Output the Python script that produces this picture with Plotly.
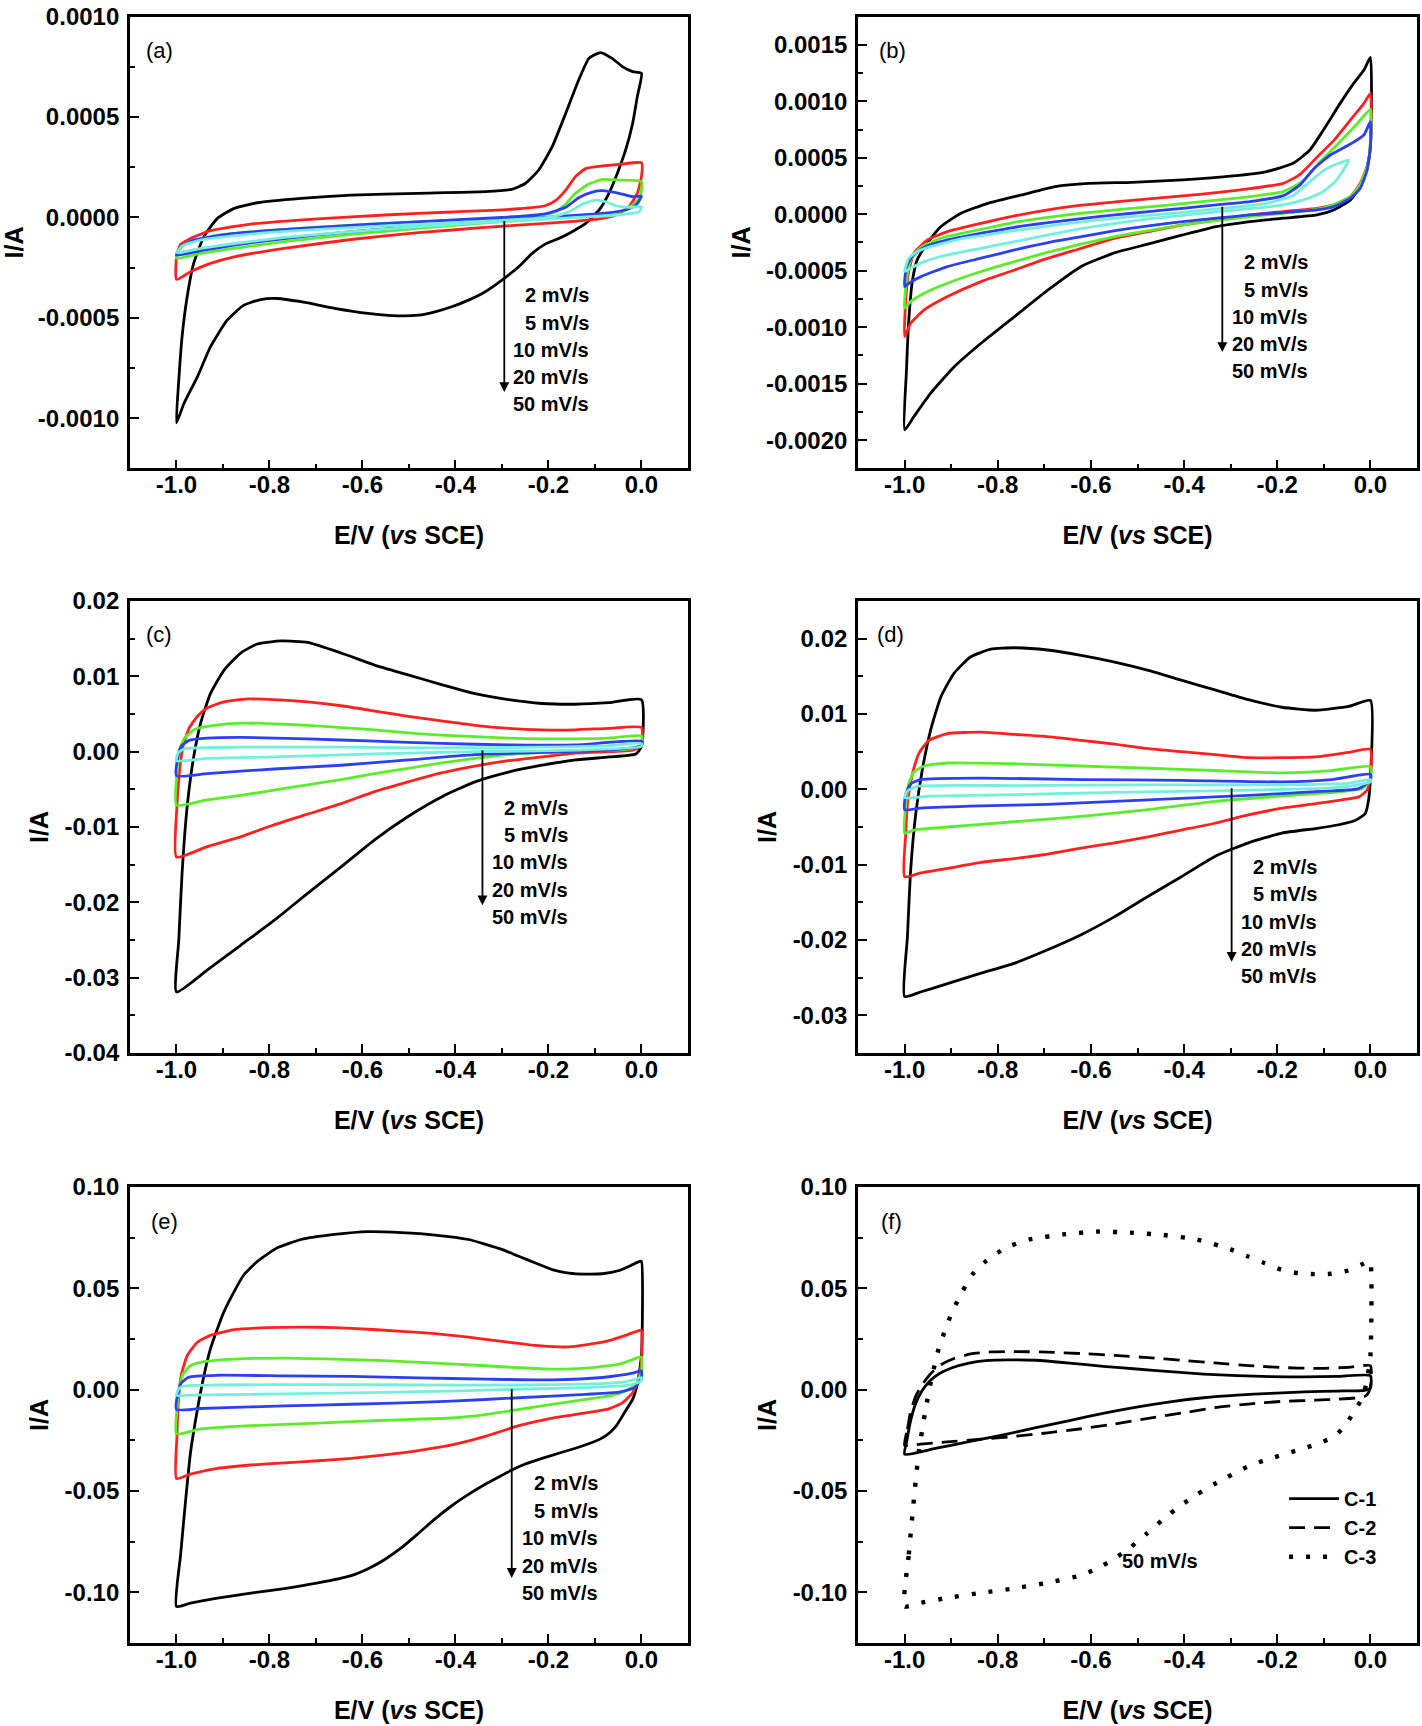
import plotly.graph_objects as go

FONT = "Liberation Sans, Arial, sans-serif"

# ---------------- (a) ----------------
A_K_E = [-1.0, -0.995, -0.988, -0.977, -0.963, -0.941, -0.912, -0.876, -0.826, -0.732, -0.624, -0.48, -0.336,
         -0.279, -0.25, -0.221, -0.192, -0.163, -0.135, -0.113, -0.088, -0.063, -0.041, -0.019, 0.0,
         -0.009, -0.019, -0.034, -0.052, -0.07, -0.091, -0.12, -0.149, -0.178, -0.207, -0.235, -0.264, -0.3,
         -0.336, -0.372, -0.408, -0.444, -0.48, -0.523, -0.588, -0.66, -0.732, -0.783, -0.819, -0.855, -0.891,
         -0.927, -0.955, -0.984, -1.0]
A_K_I = [-0.001023, -0.000811, -0.000595, -0.000395, -0.000229, -0.000096, -0.000005, 0.000045, 0.000073,
         0.000095, 0.000111, 0.00012, 0.000128, 0.00014, 0.000169, 0.000236, 0.000352, 0.000518, 0.000684,
         0.000792, 0.000821, 0.000792, 0.000751, 0.000726, 0.000718,
         0.000601, 0.000468, 0.000336, 0.000219, 0.00012, 0.000037, -0.00003, -0.000071, -0.000105, -0.000133,
         -0.000179, -0.000246, -0.000312, -0.00037, -0.000412, -0.000445, -0.00047, -0.000487, -0.00049,
         -0.000478, -0.000453, -0.00042, -0.000404, -0.000409, -0.000437, -0.000512, -0.000645, -0.000794,
         -0.000927, -0.001023]
A_R_E = [-1.0, -0.999, -0.991, -0.97, -0.927, -0.84, -0.696, -0.552, -0.408, -0.264, -0.207, -0.185, -0.163,
         -0.142, -0.12, -0.084, -0.048, 0.0,
         0.0, -0.009, -0.027, -0.055, -0.098, -0.192, -0.336, -0.48, -0.624, -0.768, -0.876, -0.927, -0.97, -1.0]
A_R_I = [-0.000309, -0.000179, -0.000135, -0.000105, -0.000066, -0.000033, -0.000007, 0.000012, 0.000027,
         0.000043, 0.000058, 0.000083, 0.000136, 0.000203, 0.000243, 0.000256, 0.000264, 0.000272,
         0.000203, 0.00012, 0.000053, 0.000012, -0.00001, -0.000027, -0.00005, -0.000076, -0.00011, -0.000154,
         -0.000196, -0.000229, -0.000271, -0.000309]
A_G_E = [-1.0, -0.995, -0.977, -0.912, -0.768, -0.624, -0.48, -0.336, -0.228, -0.185, -0.163, -0.142, -0.113,
         -0.084, -0.048, 0.0,
         -0.003, -0.019, -0.048, -0.098, -0.192, -0.336, -0.48, -0.624, -0.768, -0.876, -0.948, -1.0]
A_G_I = [-0.000204, -0.000163, -0.000126, -0.000088, -0.00006, -0.000038, -0.000022, -0.000007, 0.00001,
         0.000027, 0.000066, 0.00012, 0.000166, 0.000189, 0.000186, 0.000178,
         0.000103, 0.000061, 0.000028, 0.000012, -0.000005, -0.000027, -0.000055, -0.000085, -0.000121,
         -0.000154, -0.000179, -0.000204]
A_B_E = [-1.0, -0.991, -0.963, -0.876, -0.732, -0.588, -0.444, -0.3, -0.207, -0.163, -0.135, -0.106, -0.084,
         -0.048, -0.019, 0.0,
         -0.012, -0.034, -0.084, -0.192, -0.336, -0.48, -0.624, -0.768, -0.876, -0.948, -1.0]
A_B_I = [-0.000188, -0.000146, -0.000113, -0.00008, -0.000055, -0.000035, -0.000017, 0.0, 0.000018, 0.00005,
         0.000098, 0.000126, 0.000133, 0.00012, 0.000103, 0.000106,
         0.000061, 0.000037, 0.00002, 0.000003, -0.000017, -0.000043, -0.000071, -0.000105, -0.000138,
         -0.000166, -0.000188]
A_C_E = [-1.0, -0.988, -0.948, -0.84, -0.696, -0.552, -0.408, -0.264, -0.192, -0.156, -0.127, -0.099, -0.077,
         -0.055, -0.027, 0.0,
         -0.005, -0.034, -0.084, -0.192, -0.336, -0.48, -0.624, -0.768, -0.876, -0.948, -1.0]
A_C_I = [-0.000176, -0.000143, -0.000113, -0.000083, -0.00006, -0.000042, -0.000027, -0.00001, 0.000003,
         0.000028, 0.000066, 0.000086, 0.000078, 0.000058, 0.00005, 0.000053,
         0.000028, 0.000017, 0.000007, -0.000007, -0.000025, -0.000047, -0.000071, -0.0001, -0.00013,
         -0.000154, -0.000176]

# ---------------- (b) ----------------
B_K_E = [-1.0, -0.996, -0.991, -0.983, -0.973, -0.951, -0.922, -0.879, -0.821, -0.749, -0.677, -0.605, -0.512,
         -0.403, -0.295, -0.223, -0.166, -0.13, -0.101, -0.065, -0.036, -0.014, 0.0,
         0.0, -0.007, -0.022, -0.043, -0.079, -0.115, -0.187, -0.259, -0.331, -0.403, -0.476, -0.548, -0.62,
         -0.692, -0.764, -0.836, -0.893, -0.944, -0.98, -1.0]
B_K_I = [-0.001909, -0.001378, -0.000935, -0.000581, -0.000404, -0.000257, -0.000109, 0.000009, 0.000097,
         0.000171, 0.000245, 0.000274, 0.000283, 0.000304, 0.000339, 0.000378, 0.000451, 0.000569, 0.000746,
         0.000982, 0.001159, 0.001277, 0.001389,
         0.000599, 0.000422, 0.000245, 0.000127, 0.000038, -0.000006, -0.000035, -0.000065, -0.000109,
         -0.000183, -0.000263, -0.00034, -0.00046, -0.00067, -0.000906, -0.001142, -0.001348, -0.001584,
         -0.001791, -0.001909]
B_R_E = [-1.0, -0.998, -0.992, -0.98, -0.951, -0.908, -0.836, -0.764, -0.692, -0.62, -0.548, -0.476, -0.403,
         -0.331, -0.259, -0.187, -0.151, -0.115, -0.079, -0.043, -0.014, 0.0,
         0.0, -0.005, -0.022, -0.043, -0.079, -0.115, -0.187, -0.259, -0.331, -0.403, -0.476, -0.548, -0.62,
         -0.692, -0.764, -0.836, -0.908, -0.958, -0.987, -1.0]
B_R_I = [-0.001083, -0.000788, -0.000522, -0.000345, -0.000227, -0.000153, -0.00008, -0.000015, 0.000038,
         0.00008, 0.000109, 0.000136, 0.000162, 0.000192, 0.000227, 0.000274, 0.000354, 0.000504, 0.000652,
         0.000835, 0.000982, 0.001071,
         0.000628, 0.000451, 0.000274, 0.000156, 0.000083, 0.000053, 0.000024, -0.000006, -0.00005, -0.000094,
         -0.000153, -0.000212, -0.000301, -0.000389, -0.000493, -0.000596, -0.000729, -0.000847, -0.000965,
         -0.001083]
B_G_E = [-1.0, -0.996, -0.987, -0.965, -0.922, -0.836, -0.764, -0.692, -0.62, -0.548, -0.476, -0.403, -0.331,
         -0.259, -0.187, -0.144, -0.108, -0.072, -0.029, 0.0,
         0.0, -0.005, -0.022, -0.043, -0.079, -0.115, -0.187, -0.259, -0.331, -0.403, -0.476, -0.548, -0.62,
         -0.692, -0.764, -0.836, -0.908, -0.958, -0.987, -1.0]
B_G_I = [-0.000832, -0.000581, -0.000404, -0.000292, -0.000212, -0.000133, -0.000071, -0.000027, 0.000009,
         0.000038, 0.000065, 0.000094, 0.000124, 0.000156, 0.000201, 0.000298, 0.000466, 0.000614, 0.000799,
         0.000929,
         0.000658, 0.000451, 0.00026, 0.000156, 0.000083, 0.000044, 0.000009, -0.000021, -0.000056, -0.000094,
         -0.000145, -0.000198, -0.000263, -0.000336, -0.000419, -0.000507, -0.000611, -0.000699, -0.000773,
         -0.000832]
B_B_E = [-1.0, -0.996, -0.983, -0.958, -0.908, -0.836, -0.764, -0.692, -0.62, -0.548, -0.476, -0.403, -0.331,
         -0.259, -0.187, -0.151, -0.122, -0.086, -0.043, -0.014, 0.0,
         0.0, -0.007, -0.022, -0.043, -0.079, -0.115, -0.187, -0.259, -0.331, -0.403, -0.476, -0.548, -0.62,
         -0.692, -0.764, -0.836, -0.908, -0.965, -0.991, -1.0]
B_B_I = [-0.00064, -0.000463, -0.000369, -0.000292, -0.000227, -0.000168, -0.000115, -0.000074, -0.000038,
         -0.000006, 0.000024, 0.000053, 0.000083, 0.000112, 0.000165, 0.00026, 0.000401, 0.000525, 0.000622,
         0.000702, 0.00082,
         0.000599, 0.000392, 0.00023, 0.000142, 0.000068, 0.000038, 0.000015, -0.000006, -0.000035, -0.000065,
         -0.000103, -0.000145, -0.000198, -0.000251, -0.000316, -0.000389, -0.000463, -0.000552, -0.000611,
         -0.00064]
B_C_E = [-1.0, -0.991, -0.973, -0.944, -0.872, -0.8, -0.728, -0.656, -0.584, -0.512, -0.439, -0.367, -0.295,
         -0.223, -0.166, -0.13, -0.101, -0.072, -0.047,
         -0.058, -0.079, -0.108, -0.144, -0.187, -0.259, -0.331, -0.403, -0.476, -0.548, -0.62, -0.692, -0.764,
         -0.836, -0.908, -0.958, -0.987, -1.0]
B_C_I = [-0.000507, -0.000389, -0.00033, -0.000286, -0.000212, -0.000168, -0.000124, -0.000086, -0.00005,
         -0.000021, 0.000003, 0.000032, 0.000062, 0.000097, 0.000165, 0.000289, 0.000386, 0.000445, 0.000481,
         0.000392, 0.000274, 0.000186, 0.000127, 0.000083, 0.00005, 0.000021, -0.000009, -0.000041, -0.00008,
         -0.000127, -0.000183, -0.000242, -0.000301, -0.00036, -0.000419, -0.000478, -0.000507]

# ---------------- (c) ----------------
C_K_E = [-1.0, -0.995, -0.988, -0.977, -0.963, -0.948, -0.927, -0.898, -0.862, -0.826, -0.775, -0.718, -0.646,
         -0.574, -0.502, -0.43, -0.358, -0.286, -0.214, -0.142, -0.07, 0.0,
         0.0, -0.012, -0.07, -0.142, -0.214, -0.286, -0.358, -0.43, -0.502, -0.574, -0.646, -0.718, -0.79,
         -0.862, -0.934, -1.0]
C_K_I = [-0.0319, -0.025, -0.0162, -0.0073, -0.0007, 0.0038, 0.0077, 0.0108, 0.0131, 0.0143, 0.0147, 0.0145,
         0.0131, 0.0115, 0.0102, 0.0089, 0.0077, 0.0069, 0.0064, 0.0063, 0.0065, 0.0069,
         0.0007, -0.0003, -0.0007, -0.0011, -0.0018, -0.0027, -0.004, -0.006, -0.0086, -0.0117, -0.0153,
         -0.0188, -0.0224, -0.0257, -0.029, -0.0319]
C_R_E = [-1.0, -0.999, -0.994, -0.986, -0.973, -0.955, -0.934, -0.898, -0.847, -0.79, -0.718, -0.646, -0.574,
         -0.502, -0.43, -0.358, -0.286, -0.214, -0.142, -0.07, 0.0,
         0.0, -0.019, -0.07, -0.142, -0.214, -0.286, -0.358, -0.43, -0.502, -0.574, -0.646, -0.718, -0.79,
         -0.862, -0.934, -1.0]
C_R_I = [-0.014, -0.0073, -0.0029, 0.0007, 0.0031, 0.0047, 0.0058, 0.0066, 0.007, 0.0069, 0.0066, 0.0061,
         0.0054, 0.0047, 0.0041, 0.0035, 0.0031, 0.0029, 0.0029, 0.0031, 0.0032,
         0.0008, 0.0002, 0.0, -0.0002, -0.0007, -0.0012, -0.0019, -0.0028, -0.004, -0.0053, -0.0069, -0.0083,
         -0.0097, -0.0113, -0.0126, -0.014]
C_G_E = [-1.0, -0.999, -0.994, -0.983, -0.959, -0.919, -0.862, -0.79, -0.718, -0.646, -0.574, -0.502, -0.43,
         -0.358, -0.286, -0.214, -0.142, -0.07, 0.0,
         0.0, -0.034, -0.142, -0.286, -0.358, -0.43, -0.502, -0.574, -0.646, -0.718, -0.79, -0.862, -0.934, -1.0]
C_G_I = [-0.0071, -0.0029, 0.0, 0.0018, 0.003, 0.0035, 0.0038, 0.0037, 0.0035, 0.0032, 0.0029, 0.0025, 0.0022,
         0.002, 0.0018, 0.0017, 0.0017, 0.0018, 0.0021,
         0.0009, 0.0003, 0.0001, -0.0004, -0.0009, -0.0015, -0.0022, -0.0029, -0.0037, -0.0044, -0.0051,
         -0.0058, -0.0064, -0.0071]
C_B_E = [-1.0, -0.997, -0.99, -0.973, -0.934, -0.862, -0.718, -0.574, -0.43, -0.286, -0.142, 0.0,
         0.0, -0.07, -0.214, -0.358, -0.502, -0.646, -0.79, -0.934, -1.0]
C_B_I = [-0.0032, -0.0007, 0.0007, 0.0015, 0.0018, 0.0019, 0.0017, 0.0014, 0.0011, 0.0009, 0.0009, 0.0014,
         0.0008, 0.0002, -0.0001, -0.0004, -0.0011, -0.0018, -0.0023, -0.0029, -0.0032]
C_C_E = [-1.0, -0.996, -0.981, -0.862, -0.646, -0.43, -0.214, -0.07, 0.0,
         0.0, -0.142, -0.358, -0.574, -0.79, -0.934, -1.0]
C_C_I = [-0.0012, -0.0001, 0.0004, 0.0006, 0.0006, 0.0005, 0.0006, 0.0008, 0.0011,
         0.0007, 0.0002, 0.0, -0.0003, -0.0007, -0.0009, -0.0012]

# ---------------- (d) ----------------
D_K_E = [-1.0, -0.994, -0.987, -0.976, -0.962, -0.944, -0.922, -0.894, -0.858, -0.815, -0.765, -0.693, -0.621,
         -0.549, -0.477, -0.406, -0.334, -0.262, -0.19, -0.118, -0.047, 0.0,
         0.0, -0.004, -0.011, -0.032, -0.068, -0.118, -0.19, -0.262, -0.334, -0.406, -0.477, -0.549, -0.621,
         -0.693, -0.765, -0.836, -0.908, -0.966, -1.0]
D_K_I = [-0.0275, -0.0196, -0.0107, -0.0032, 0.0026, 0.0079, 0.0123, 0.0154, 0.0176, 0.0186, 0.0188, 0.0185,
         0.0178, 0.0169, 0.0158, 0.0145, 0.0132, 0.0119, 0.0109, 0.0105, 0.011, 0.0118,
         0.0017, -0.0014, -0.0032, -0.0041, -0.0047, -0.0052, -0.0058, -0.0071, -0.0089, -0.0116, -0.0142,
         -0.0169, -0.0193, -0.0213, -0.0231, -0.0244, -0.0258, -0.0269, -0.0275]
D_R_E = [-1.0, -0.998, -0.993, -0.983, -0.969, -0.948, -0.908, -0.836, -0.765, -0.693, -0.621, -0.549, -0.477,
         -0.406, -0.334, -0.262, -0.19, -0.118, -0.047, 0.0,
         0.0, -0.007, -0.025, -0.061, -0.118, -0.19, -0.262, -0.334, -0.406, -0.477, -0.549, -0.621, -0.693,
         -0.765, -0.836, -0.908, -0.966, -1.0]
D_R_I = [-0.0116, -0.0063, -0.0014, 0.0021, 0.0048, 0.0065, 0.0074, 0.0076, 0.0073, 0.007, 0.0065, 0.006,
         0.0054, 0.005, 0.0046, 0.0042, 0.0042, 0.0043, 0.0049, 0.0053,
         0.0017, -0.0001, -0.001, -0.0014, -0.0019, -0.0025, -0.0034, -0.0045, -0.0054, -0.0063, -0.0071,
         -0.0078, -0.0086, -0.0092, -0.0097, -0.0105, -0.0111, -0.0116]
D_G_E = [-1.0, -0.998, -0.991, -0.98, -0.958, -0.908, -0.765, -0.621, -0.477, -0.334, -0.19, -0.083, 0.0,
         0.0, -0.018, -0.061, -0.19, -0.334, -0.477, -0.621, -0.765, -0.908, -0.98, -1.0]
D_G_I = [-0.0058, -0.0023, 0.0008, 0.0023, 0.0031, 0.0035, 0.0034, 0.0031, 0.0028, 0.0025, 0.0022, 0.0025,
         0.003,
         0.0012, 0.0001, -0.0003, -0.0009, -0.0016, -0.0027, -0.0036, -0.0043, -0.005, -0.0054, -0.0058]
D_B_E = [-1.0, -0.997, -0.987, -0.966, -0.836, -0.621, -0.406, -0.19, -0.083, 0.0,
         0.0, -0.025, -0.118, -0.262, -0.406, -0.549, -0.693, -0.836, -0.966, -1.0]
D_B_I = [-0.0027, -0.0005, 0.0007, 0.0013, 0.0015, 0.0013, 0.0012, 0.001, 0.0013, 0.002,
         0.0012, 0.0001, -0.0003, -0.0008, -0.0012, -0.0016, -0.002, -0.0022, -0.0025, -0.0027]
D_C_E = [-1.0, -0.994, -0.973, -0.765, -0.477, -0.19, -0.047, 0.0,
         0.0, -0.047, -0.118, -0.334, -0.549, -0.765, -0.944, -1.0]
D_C_I = [-0.0011, -0.0002, 0.0004, 0.0005, 0.0006, 0.0006, 0.0008, 0.0013,
         0.001, 0.0004, 0.0001, -0.0002, -0.0004, -0.0007, -0.0009, -0.0011]

# ---------------- (e) ----------------
E_K_E = [-1.0, -0.991, -0.981, -0.97, -0.955, -0.941, -0.927, -0.912, -0.898, -0.876, -0.855, -0.826, -0.783,
         -0.732, -0.66, -0.588, -0.516, -0.444, -0.372, -0.3, -0.264, -0.228, -0.192, -0.156, -0.12, -0.084,
         -0.048, -0.019, -0.004,
         0.0, 0.0, -0.009, -0.019, -0.037, -0.055, -0.077, -0.106, -0.142, -0.178, -0.214, -0.25, -0.279, -0.307,
         -0.336, -0.372, -0.408, -0.444, -0.48, -0.516, -0.552, -0.588, -0.624, -0.696, -0.768, -0.84, -0.912,
         -0.97, -1.0]
E_K_I = [-0.107, -0.0813, -0.0563, -0.0314, -0.0098, 0.0068, 0.0201, 0.0301, 0.0384, 0.0484, 0.0567, 0.0633,
         0.07, 0.0741, 0.0766, 0.078, 0.0775, 0.0763, 0.0741, 0.0692, 0.0658, 0.0625, 0.0592, 0.0575, 0.057,
         0.0572, 0.0588, 0.0617, 0.0633,
         0.0633, 0.0168, 0.0027, -0.0048, -0.0115, -0.0181, -0.0228, -0.0261, -0.0289, -0.0314, -0.0339,
         -0.0367, -0.0397, -0.0431, -0.0467, -0.0517, -0.0573, -0.0638, -0.071, -0.078, -0.0838, -0.0884,
         -0.0918, -0.0954, -0.0982, -0.1004, -0.1029, -0.1054, -0.107]
E_R_E = [-1.0, -0.999, -0.996, -0.99, -0.977, -0.955, -0.927, -0.876, -0.804, -0.732, -0.66, -0.588, -0.516,
         -0.444, -0.372, -0.3, -0.228, -0.156, -0.084, -0.034, -0.004,
         0.0, 0.0, -0.009, -0.019, -0.041, -0.07, -0.12, -0.192, -0.264, -0.336, -0.408, -0.48, -0.552, -0.624,
         -0.696, -0.768, -0.84, -0.912, -0.97, -1.0]
E_R_I = [-0.0439, -0.0231, -0.0065, 0.0068, 0.0168, 0.0234, 0.0268, 0.0296, 0.0306, 0.0309, 0.0306, 0.0298,
         0.0288, 0.0276, 0.0259, 0.0238, 0.0218, 0.0211, 0.0234, 0.0268, 0.0293,
         0.0293, 0.0135, 0.0035, -0.0015, -0.0065, -0.0095, -0.0115, -0.014, -0.0178, -0.0231, -0.0273,
         -0.0301, -0.0322, -0.0339, -0.0351, -0.0361, -0.0372, -0.0389, -0.0417, -0.0439]
E_G_E = [-1.0, -0.999, -0.994, -0.986, -0.97, -0.941, -0.876, -0.768, -0.66, -0.552, -0.444, -0.336, -0.264,
         -0.192, -0.12, -0.048, -0.004,
         0.0, 0.0, -0.012, -0.034, -0.063, -0.12, -0.192, -0.264, -0.336, -0.408, -0.552, -0.696, -0.84, -0.948,
         -1.0]
E_G_I = [-0.0218, -0.0098, 0.0002, 0.0076, 0.0118, 0.0138, 0.0151, 0.0156, 0.0151, 0.0143, 0.0131, 0.0118,
         0.0108, 0.0101, 0.0106, 0.0126, 0.016,
         0.016, 0.0085, 0.0027, -0.0007, -0.0028, -0.0048, -0.0073, -0.0098, -0.0123, -0.014, -0.0151, -0.0165,
         -0.0178, -0.0194, -0.0218]
E_B_E = [-1.0, -0.997, -0.99, -0.973, -0.912, -0.768, -0.624, -0.48, -0.336, -0.192, -0.084, -0.019, 0.0,
         0.0, -0.015, -0.048, -0.12, -0.264, -0.408, -0.552, -0.696, -0.84, -0.948, -1.0]
E_B_I = [-0.0098, -0.0018, 0.0032, 0.0062, 0.0071, 0.0068, 0.0065, 0.0058, 0.0052, 0.0048, 0.006, 0.0081, 0.0093,
         0.006, 0.001, -0.0012, -0.0023, -0.004, -0.0057, -0.0068, -0.0076, -0.0085, -0.0093, -0.0098]
E_C_E = [-1.0, -0.996, -0.984, -0.912, -0.696, -0.48, -0.264, -0.12, -0.034, 0.0,
         0.0, -0.027, -0.12, -0.264, -0.408, -0.552, -0.696, -0.84, -0.97, -1.0]
E_C_I = [-0.0028, 0.0002, 0.0018, 0.0023, 0.0025, 0.0023, 0.0023, 0.0027, 0.0038, 0.006,
         0.0043, 0.0022, 0.001, 0.0002, -0.0007, -0.0013, -0.0018, -0.0023, -0.0027, -0.0028]

# ---------------- labels / ticks ----------------
RATES = ['2 mV/s', '5 mV/s', '10 mV/s', '20 mV/s', '50 mV/s']
SAMPLES = ['C-1', 'C-2', 'C-3']
LETTERS = ['(a)', '(b)', '(c)', '(d)', '(e)', '(f)']

X_TICKS = [-1.0, -0.8, -0.6, -0.4, -0.2, 0.0]
X_LABELS = ['-1.0', '-0.8', '-0.6', '-0.4', '-0.2', '0.0']
A_Y_TICKS = [-0.001, -0.0005, 0.0, 0.0005, 0.001]
A_Y_LABELS = ['-0.0010', '-0.0005', '0.0000', '0.0005', '0.0010']
B_Y_TICKS = [-0.002, -0.0015, -0.001, -0.0005, 0.0, 0.0005, 0.001, 0.0015]
B_Y_LABELS = ['-0.0020', '-0.0015', '-0.0010', '-0.0005', '0.0000', '0.0005', '0.0010', '0.0015']
C_Y_TICKS = [-0.04, -0.03, -0.02, -0.01, 0.0, 0.01, 0.02]
C_Y_LABELS = ['-0.04', '-0.03', '-0.02', '-0.01', '0.00', '0.01', '0.02']
D_Y_TICKS = [-0.03, -0.02, -0.01, 0.0, 0.01, 0.02]
D_Y_LABELS = ['-0.03', '-0.02', '-0.01', '0.00', '0.01', '0.02']
E_Y_TICKS = [-0.1, -0.05, 0.0, 0.05, 0.1]
E_Y_LABELS = ['-0.10', '-0.05', '0.00', '0.05', '0.10']

# black = 50 mV/s ... cyan = 2 mV/s
COLORS = ['#000000', '#ff2020', '#5bec2b', '#2c40f0', '#74efdb']

LEFT = [0.0914, 0.4838]
RIGHT = [0.6034, 0.9965]
ROWS = [[0.7286, 0.9904], [0.3899, 0.6518], [0.0481, 0.3123]]

panels = [
    dict(curves=[(A_K_E, A_K_I), (A_R_E, A_R_I), (A_G_E, A_G_I), (A_B_E, A_B_I), (A_C_E, A_C_I)],
         xd=LEFT, yd=ROWS[0], yr=[-0.00125, 0.001], yt=A_Y_TICKS, yl=A_Y_LABELS, ym=0.00025,
         arrow=(-0.295, -0.00001, -0.00087), lab_x=-0.108, lab_y=0.383, let_x=0.025),
    dict(curves=[(B_K_E, B_K_I), (B_R_E, B_R_I), (B_G_E, B_G_I), (B_B_E, B_B_I), (B_C_E, B_C_I)],
         xd=RIGHT, yd=ROWS[0], yr=[-0.00225, 0.00175], yt=B_Y_TICKS, yl=B_Y_LABELS, ym=0.00025,
         arrow=(-0.318, 0.00008, -0.00122), lab_x=-0.130, lab_y=0.456, let_x=0.034),
    dict(curves=[(C_K_E, C_K_I), (C_R_E, C_R_I), (C_G_E, C_G_I), (C_B_E, C_B_I), (C_C_E, C_C_I)],
         xd=LEFT, yd=ROWS[1], yr=[-0.04, 0.02], yt=C_Y_TICKS, yl=C_Y_LABELS, ym=0.005,
         arrow=(-0.342, 0.0004, -0.0204), lab_x=-0.154, lab_y=0.542, let_x=0.025),
    dict(curves=[(D_K_E, D_K_I), (D_R_E, D_R_I), (D_G_E, D_G_I), (D_B_E, D_B_I), (D_C_E, D_C_I)],
         xd=RIGHT, yd=ROWS[1], yr=[-0.035, 0.025], yt=D_Y_TICKS, yl=D_Y_LABELS, ym=0.005,
         arrow=(-0.298, 0.00035, -0.0229), lab_x=-0.111, lab_y=0.411, let_x=0.030),
    dict(curves=[(E_K_E, E_K_I), (E_R_E, E_R_I), (E_G_E, E_G_I), (E_B_E, E_B_I), (E_C_E, E_C_I)],
         xd=LEFT, yd=ROWS[2], yr=[-0.125, 0.1], yt=E_Y_TICKS, yl=E_Y_LABELS, ym=0.025,
         arrow=(-0.279, 0.001, -0.0929), lab_x=-0.089, lab_y=0.350, let_x=0.034),
    dict(curves=[], xd=RIGHT, yd=ROWS[2], yr=[-0.125, 0.1], yt=E_Y_TICKS, yl=E_Y_LABELS, ym=0.025,
         arrow=None, let_x=0.038),
]

fig = go.Figure()
annotations = []
tick_font = dict(family=FONT, size=24, color='black', weight='bold')
title_font = dict(family=FONT, size=25, color='black', weight='bold')

for k, p in enumerate(panels):
    n = '' if k == 0 else str(k + 1)
    xr, yr = 'x' + n, 'y' + n
    for (e, i), col in zip(p['curves'], COLORS):
        fig.add_trace(go.Scatter(x=e, y=i, mode='lines', xaxis=xr, yaxis=yr, showlegend=False,
                                 hoverinfo='skip',
                                 line=dict(color=col, width=2.8, shape='spline', smoothing=0.5)))
    eps = (p['yr'][1] - p['yr'][0]) * 1e-4
    fig.update_layout(**{
        'xaxis' + n: dict(domain=p['xd'], anchor=yr, range=[-1.1, 0.1], tickmode='array', automargin=False,
                          tickvals=X_TICKS, ticktext=X_LABELS, ticks='inside', ticklen=9, tickwidth=2,
                          tickcolor='black', showline=True, linewidth=2.8, linecolor='black', mirror=True,
                          showgrid=False, zeroline=False, tickfont=tick_font, ticklabelstandoff=-7,
                          minor=dict(tickmode='linear', tick0=0, dtick=0.1, ticks='inside', ticklen=5,
                                     tickwidth=2, tickcolor='black'),
                          title=dict(text='E/V (<i>vs</i> SCE)', font=title_font, standoff=30)),
        'yaxis' + n: dict(domain=p['yd'], anchor=xr, range=[p['yr'][0] - eps, p['yr'][1] + eps],
                          tickmode='array', tickvals=p['yt'], ticktext=p['yl'], ticks='inside', ticklen=9,
                          tickwidth=2, tickcolor='black', showline=True, linewidth=2.8, linecolor='black',
                          mirror=True, showgrid=False, zeroline=False, tickfont=tick_font, automargin=False,
                          ticklabelstandoff=3,
                          minor=dict(tickmode='linear', tick0=0, dtick=p['ym'], ticks='inside', ticklen=5,
                                     tickwidth=2, tickcolor='black'),
                          title=dict(text='I/A', font=title_font, standoff=9)),
    })
    annotations.append(dict(text=LETTERS[k], x=p['let_x'], y=0.925, xref=xr + ' domain', yref=yr + ' domain',
                            xanchor='left', yanchor='middle', showarrow=False,
                            font=dict(family=FONT, size=22, color='black')))
    if p['arrow']:
        ax_e, y0, y1 = p['arrow']
        annotations.append(dict(x=ax_e, y=y1, ax=ax_e, ay=y0, xref=xr, yref=yr, axref=xr, ayref=yr, text='',
                                showarrow=True, arrowhead=2, arrowsize=1.1, arrowwidth=1.8,
                                arrowcolor='black'))
        for j, rate in enumerate(RATES):
            annotations.append(dict(text=rate, x=p['lab_x'], y=p['lab_y'] - j * 0.0602, xref=xr,
                                    yref=yr + ' domain', xanchor='right', yanchor='middle', showarrow=False,
                                    font=dict(family=FONT, size=20, color='black', weight='bold')))

# (f): 50 mV/s comparison of the three samples
for (e, i), name, dash, w in zip([(C_K_E, C_K_I), (D_K_E, D_K_I), (E_K_E, E_K_I)], SAMPLES,
                                 ['solid', '16px,9px', '4px,13px'], [2.8, 2.8, 4.4]):
    fig.add_trace(go.Scatter(x=e, y=i, mode='lines', xaxis='x6', yaxis='y6', name=name, hoverinfo='skip',
                             line=dict(color='black', width=w, dash=dash, shape='spline', smoothing=0.5)))
annotations.append(dict(text='50 mV/s', x=-0.451, y=-0.0848, xref='x6', yref='y6', showarrow=False,
                        font=dict(family=FONT, size=20, color='black', weight='bold')))

fig.update_layout(
    width=1422, height=1726, margin=dict(l=0, r=0, t=0, b=0, autoexpand=False),
    paper_bgcolor='white', plot_bgcolor='white',
    annotations=annotations,
    legend=dict(x=0.903, y=0.143, xanchor='left', yanchor='top', bgcolor='rgba(0,0,0,0)', borderwidth=0,
                font=dict(family=FONT, size=20, color='black', weight='bold'), itemwidth=50,
                tracegroupgap=0),
)

fig.write_html("out.html", config={'displayModeBar': False},
               post_script="document.body.style.margin='0';")
